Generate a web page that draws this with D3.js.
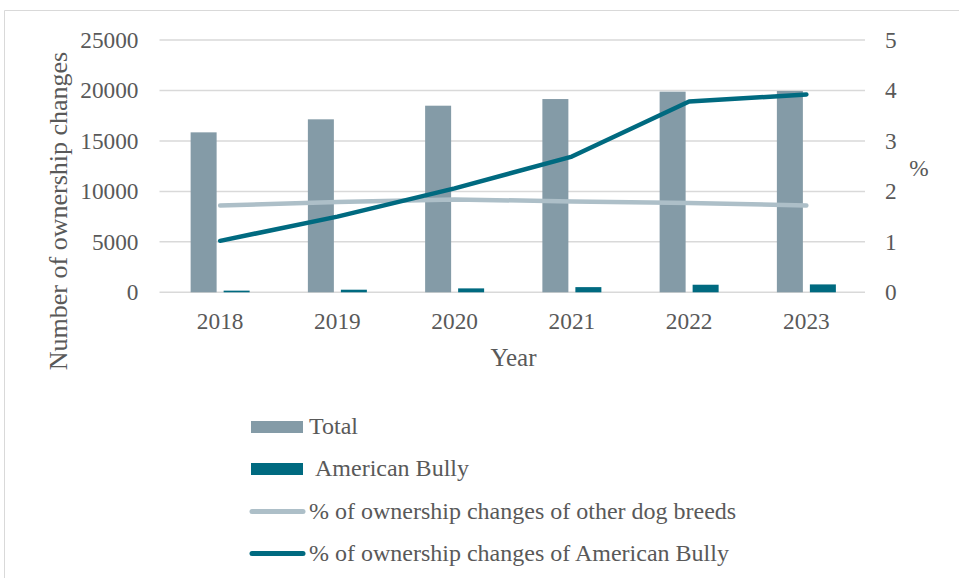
<!DOCTYPE html>
<html>
<head>
<meta charset="utf-8">
<script src="https://cdn.jsdelivr.net/npm/d3@7"></script>
<style>
  html, body { margin: 0; padding: 0; background: #fff; }
  svg { display: block; }
</style>
</head>
<body>
<svg id="chart" width="959" height="578" font-family="Liberation Serif"></svg>
<script>
const years = ["2018", "2019", "2020", "2021", "2022", "2023"];
const totalValues = [15850, 17140, 18490, 19150, 19880, 19950];
const bullyValues = [165, 257, 388, 513, 750, 782];
const pctOther = [1.72, 1.79, 1.84, 1.80, 1.77, 1.72];
const pctBully = [1.02, 1.50, 2.06, 2.69, 3.78, 3.92];
const leftTicks = [0, 5000, 10000, 15000, 20000, 25000];
const rightTicks = [0, 1, 2, 3, 4, 5];
const legendLabels = ["Total", " American Bully", "% of ownership changes of other dog breeds", "% of ownership changes of American Bully"];

(function () {
const FONT = "Liberation Serif";
const TXT = "#595959";
const TICK_FS = 23.3, YEAR_FS = 25, YTITLE_FS = 26, LEG_FS = 24;
const colTotal = "#849ba7";
const colBully = "#006a80";
const colOther = "#adbfc8";
const colGrid = "#d9d9d9";

const svg = d3.select("#chart");

// outer frame (top and left edges)
svg.append("line").attr("x1", 4.5).attr("x2", 959).attr("y1", 10.5).attr("y2", 10.5).attr("stroke", colGrid).attr("stroke-width", 1);
svg.append("line").attr("x1", 4.5).attr("x2", 4.5).attr("y1", 10.5).attr("y2", 578).attr("stroke", colGrid).attr("stroke-width", 1);

const pLeft = 161.5, pRight = 865, pTop = 40, pBottom = 292.3;
const x = d3.scaleBand().domain(years).range([pLeft, pRight]).paddingInner(0).paddingOuter(0);
const yL = d3.scaleLinear().domain([0, 25000]).range([pBottom, pTop]);
const yR = d3.scaleLinear().domain([0, 5]).range([pBottom, pTop]);

// gridlines
svg.append("g").selectAll("line").data(leftTicks).join("line")
  .attr("x1", pLeft - 2).attr("x2", pRight)
  .attr("y1", d => yL(d)).attr("y2", d => yL(d))
  .attr("stroke", colGrid).attr("stroke-width", 1.5);

function styleAxis(g) {
  g.attr("font-family", FONT).attr("font-size", TICK_FS);
  g.select(".domain").remove();
  g.selectAll("text").attr("font-family", FONT).attr("font-size", TICK_FS).attr("fill", TXT);
}

// left axis
svg.append("g").attr("transform", `translate(${pLeft},0)`)
  .call(d3.axisLeft(yL).tickValues(leftTicks).tickSize(0).tickPadding(23).tickFormat(d3.format("d")))
  .call(styleAxis)
  .selectAll("text").attr("dy", "0.32em");

// right axis
svg.append("g").attr("transform", `translate(${pRight},0)`)
  .call(d3.axisRight(yR).tickValues(rightTicks).tickSize(0).tickPadding(20).tickFormat(d3.format("d")))
  .call(styleAxis)
  .selectAll("text").attr("dy", "0.32em");

// x axis
svg.append("g").attr("transform", `translate(0,${pBottom})`)
  .call(d3.axisBottom(x).tickSize(0).tickPadding(20))
  .call(styleAxis)
  .selectAll("text").attr("dy", "0.71em");

// axis titles
svg.append("text").attr("x", 513.5).attr("y", 366).attr("text-anchor", "middle")
  .attr("font-family", FONT).attr("font-size", YEAR_FS).attr("fill", TXT).text("Year");
svg.append("text").attr("transform", "translate(67,211) rotate(-90)").attr("text-anchor", "middle")
  .attr("font-family", FONT).attr("font-size", YTITLE_FS).attr("fill", TXT).text("Number of ownership changes");
svg.append("text").attr("x", 919).attr("y", 176).attr("text-anchor", "middle")
  .attr("font-family", FONT).attr("font-size", TICK_FS).attr("fill", TXT).text("%");

// bars
const barW = 26, gap = 7;
svg.append("g").selectAll("rect").data(years).join("rect")
  .attr("x", (d) => x(d) + x.bandwidth() / 2 - gap / 2 - barW)
  .attr("width", barW)
  .attr("y", (d, i) => yL(totalValues[i]))
  .attr("height", (d, i) => pBottom - yL(totalValues[i]))
  .attr("fill", colTotal);
svg.append("g").selectAll("rect").data(years).join("rect")
  .attr("x", (d) => x(d) + x.bandwidth() / 2 + gap / 2)
  .attr("width", barW)
  .attr("y", (d, i) => yL(bullyValues[i]))
  .attr("height", (d, i) => pBottom - yL(bullyValues[i]))
  .attr("fill", colBully);

// lines
const cx = d => x(d) + x.bandwidth() / 2;
const lineGen = vals => d3.line().x((d, i) => cx(years[i])).y(d => yR(d))(vals);
svg.append("path").attr("d", lineGen(pctOther)).attr("fill", "none").attr("stroke", colOther)
  .attr("stroke-width", 4.5).attr("stroke-linecap", "round").attr("stroke-linejoin", "round");
svg.append("path").attr("d", lineGen(pctBully)).attr("fill", "none").attr("stroke", colBully)
  .attr("stroke-width", 4.5).attr("stroke-linecap", "round").attr("stroke-linejoin", "round");

// legend
const legY = [426.5, 469, 511.5, 553.5];
const leg = svg.append("g");
leg.append("rect").attr("x", 251).attr("y", 421).attr("width", 52).attr("height", 12).attr("fill", colTotal);
leg.append("rect").attr("x", 251).attr("y", 463).attr("width", 52).attr("height", 12).attr("fill", colBully);
leg.append("line").attr("x1", 252).attr("x2", 303).attr("y1", legY[2]).attr("y2", legY[2]).attr("stroke", colOther).attr("stroke-width", 5).attr("stroke-linecap", "round");
leg.append("line").attr("x1", 252).attr("x2", 303).attr("y1", legY[3]).attr("y2", legY[3]).attr("stroke", colBully).attr("stroke-width", 5).attr("stroke-linecap", "round");
leg.selectAll("text").data(legendLabels).join("text")
  .attr("x", (d, i) => i === 1 ? 315 : 309).attr("y", (d, i) => legY[i]).attr("dy", "0.3em")
  .attr("font-family", FONT).attr("font-size", LEG_FS).attr("fill", TXT)
  .text(d => d.trim());
})();
</script>
</body>
</html>
